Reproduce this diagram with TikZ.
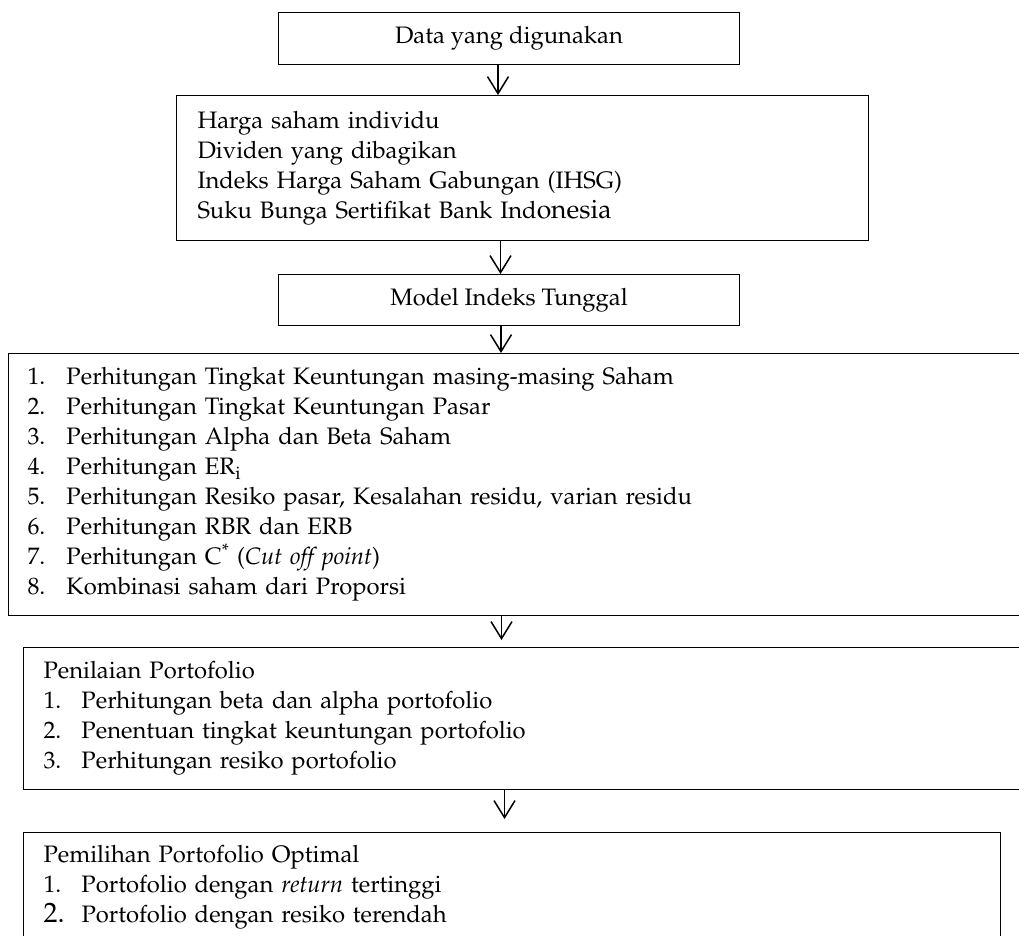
\documentclass[tikz,border=0pt]{standalone}
\usepackage[T1]{fontenc}
\usepackage{mathpazo}
\usetikzlibrary{arrows.meta}

\tikzset{
  kotak/.style={draw, line width=1pt, anchor=north west, inner sep=0pt,
    font=\fontsize{23.8}{30}\selectfont},
  tengah/.style={kotak, align=center},
  daftar/.style={kotak, align=left},
  panah/.style={line width=1.5pt, -{Straight Barb[length=17pt,width=21pt,line width=1.5pt]}}
}
\newcommand{\nomor}[3]{\makebox[#1][l]{#2}#3}

\begin{document}
\begin{tikzpicture}[x=1pt, y=-1pt]
\useasboundingbox (0,0) rectangle (1019,935);
\clip (0,0) rectangle (1019,935);

\node[tengah, minimum width=461pt, minimum height=52pt] (data) at (278,12) {Data yang digunakan};
\node[daftar, minimum width=692pt, minimum height=145pt, text width=650pt, inner xsep=21pt] (isi) at (176,95)
  {Harga saham individu\\
   Dividen yang dibagikan\\
   Indeks Harga Saham Gabungan (IHSG)\\
   Suku Bunga Sertifikat Bank Ind{\fontsize{26.5}{30}\selectfont onesia}};
\node[tengah, minimum width=461pt, minimum height=51pt] (model) at (278,274) {Model Indeks Tunggal};
\node[daftar, minimum width=1022pt, minimum height=262pt, text width=984pt, inner xsep=19pt] (hitung) at (8,353)
  {\nomor{39pt}{1.}{Perhitungan Tingkat Keuntungan masing-masing Saham}\\
   \nomor{39pt}{2.}{Perhitungan Tingkat Keuntungan Pasar}\\
   \nomor{39pt}{3.}{Perhitungan Alpha dan Beta Saham}\\
   \nomor{39pt}{4.}{Perhitungan ER\textsubscript{i}}\\
   \nomor{39pt}{5.}{Perhitungan Resiko pasar, Kesalahan residu, varian residu}\\
   \nomor{39pt}{6.}{Perhitungan RBR dan ERB}\\
   \nomor{39pt}{7.}{Perhitungan C\textsuperscript{*} (\textit{Cut off point})}\\
   \nomor{39pt}{8.}{Kombinasi saham dari Proporsi}};
\node[daftar, minimum width=1010pt, minimum height=142pt, text width=970pt, inner xsep=20pt] (nilai) at (23,647)
  {Penilaian Portofolio\\
   \nomor{38pt}{1.}{Perhitungan beta dan alpha portofolio}\\
   \nomor{38pt}{2.}{Penentuan tingkat keuntungan portofolio}\\
   \nomor{38pt}{3.}{Perhitungan resiko portofolio}};
\node[daftar, minimum width=977pt, minimum height=142pt, text width=937pt, inner xsep=20pt] (pilih) at (23,832)
  {Pemilihan Portofolio Optimal\\
   \nomor{38pt}{1.}{Portofolio dengan \textit{return} tertinggi}\\
   \nomor{38pt}{{\fontsize{28}{30}\selectfont 2.}}{Portofolio dengan resiko terendah}\\
   \strut};

% panah antar kotak
\draw[panah] ([xshift=-11pt]data.south) -- ([xshift=-11pt]data.south |- isi.north);
\draw[panah] ([xshift=-22pt]isi.south) -- ([xshift=-22pt]isi.south |- model.north);
\draw[panah] ([xshift=-8pt]model.south) -- ([xshift=-8pt]model.south |- hitung.north);
\draw[panah, shorten >=7pt] ([xshift=-18pt]hitung.south) -- ([xshift=-18pt]hitung.south |- nilai.north);
\draw[panah, shorten >=13pt] ([xshift=-24pt]nilai.south) -- ([xshift=-24pt]nilai.south |- pilih.north);
\end{tikzpicture}
\end{document}
